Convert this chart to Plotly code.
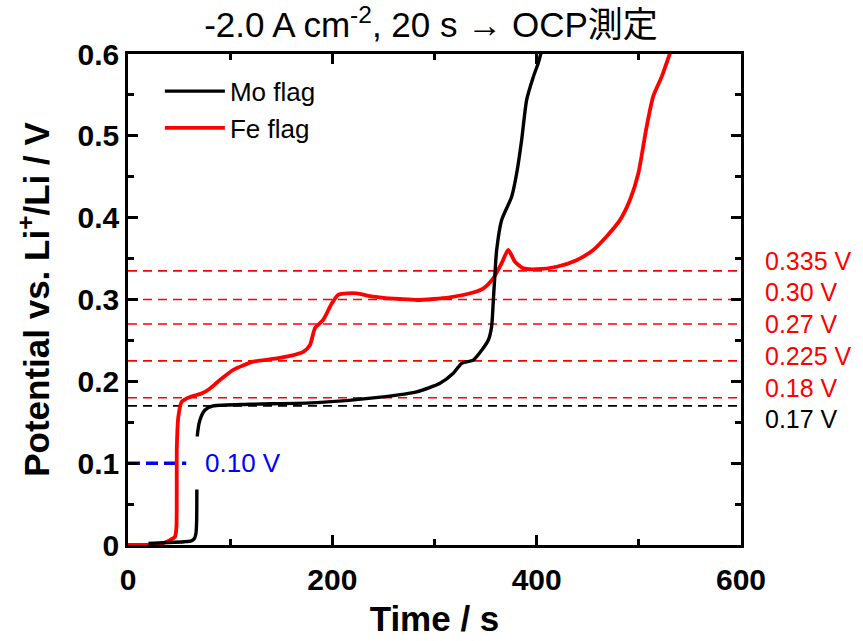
import plotly.graph_objects as go

# Fe flag (red)
fe_t = [0, 31, 41, 46, 47.4, 47.8, 49.3, 52.5, 60.7, 72, 80, 90, 103, 122.6, 145.5, 158.6,
        171.6, 178, 183, 191, 199.4, 206, 224, 237, 250, 266, 282.5, 299, 315, 335, 348,
        357.6, 365.7, 372.2, 378.8, 387, 400, 419.5, 439, 455.4, 468.4, 481.5, 491.3,
        499.5, 507.6, 514, 522.3, 530.5]
fe_v = [0.000, 0.001, 0.006, 0.010, 0.022, 0.120, 0.157, 0.175, 0.181, 0.185, 0.191, 0.2016,
        0.214, 0.224, 0.228, 0.231, 0.236, 0.244, 0.265, 0.275, 0.295, 0.306, 0.3076, 0.304,
        0.302, 0.3006, 0.2994, 0.3006, 0.3027, 0.3076, 0.3137, 0.326, 0.3443, 0.3605, 0.346,
        0.338, 0.337, 0.340, 0.348, 0.3605, 0.377, 0.397, 0.4216, 0.454, 0.511, 0.548,
        0.572, 0.601]

# Mo flag (black)
mo_t = [20, 40, 55, 62, 65, 66.5, 67.2, 67.4, 67.6, 70.5, 75.4, 83.5, 119.4, 184.7, 249.9,
        282.5, 305.4, 318.4, 326.6, 338, 346.2, 352.7, 355.9, 357.6, 359.2, 360.8, 365.7,
        375.5, 380.4, 385.3, 390.2, 396.7, 401.6, 404.2]
mo_v = [0.002, 0.003, 0.004, 0.005, 0.008, 0.014, 0.03, 0.07, 0.13, 0.153, 0.165, 0.170,
        0.172, 0.174, 0.181, 0.187, 0.1976, 0.2098, 0.222, 0.226, 0.238, 0.2505, 0.2668,
        0.2994, 0.332, 0.36, 0.397, 0.4256, 0.454, 0.495, 0.544, 0.572, 0.589, 0.601]

# reference levels
ref_levels = [0.335, 0.30, 0.27, 0.225, 0.18, 0.17]
ref_labels = ["0.335 V", "0.30 V", "0.27 V", "0.225 V", "0.18 V", "0.17 V"]
ref_colors = ["#ff0000", "#ff0000", "#ff0000", "#ff0000", "#ff0000", "#000000"]
label_y = [0.347, 0.309, 0.270, 0.231, 0.192, 0.154]

blue_level = 0.10
blue_t = [0, 57]

x_ticks = [0, 200, 400, 600]
y_ticks = [0, 0.1, 0.2, 0.3, 0.4, 0.5, 0.6]

FONT = "Arial, Liberation Sans, Noto Sans CJK JP, sans-serif"

fig = go.Figure()

for lv, c in zip(ref_levels, ref_colors):
    fig.add_trace(go.Scatter(x=[0, 600], y=[lv, lv], mode="lines",
                             line=dict(color=c, width=1.6, dash="9px,6px"),
                             showlegend=False, hoverinfo="skip"))

fig.add_trace(go.Scatter(x=blue_t, y=[blue_level, blue_level], mode="lines",
                         line=dict(color="#0000ff", width=3.5, dash="12px,6px"),
                         showlegend=False, hoverinfo="skip"))

fig.add_trace(go.Scatter(x=fe_t, y=fe_v, mode="lines", name="Fe flag",
                         line=dict(color="#ff0000", width=3.8, shape="spline", smoothing=0.6),
                         legendrank=2))
fig.add_trace(go.Scatter(x=mo_t, y=mo_v, mode="lines", name="Mo flag",
                         line=dict(color="#000000", width=3.4, shape="spline", smoothing=0.6),
                         legendrank=1))

for txt, ly, c in zip(ref_labels, label_y, ref_colors):
    fig.add_annotation(x=1.038, xref="paper", y=ly, yref="y", text=txt, showarrow=False,
                       xanchor="left", yanchor="middle", borderpad=0,
                       font=dict(family=FONT, size=25, color=c))

fig.add_annotation(x=63.6, xref="x", y=blue_level, yref="y", text="0.10 V", showarrow=False,
                   xanchor="left", yanchor="middle", bgcolor="white", borderpad=11,
                   font=dict(family=FONT, size=26, color="#0000ff"))

axis_common = dict(showgrid=False, zeroline=False, showline=True, linecolor="black",
                   linewidth=2.5, mirror="ticks", ticks="inside", ticklen=10, tickwidth=2.5,
                   tickcolor="black",
                   tickfont=dict(family=FONT, size=30, color="black", weight="bold"))

fig.update_xaxes(range=[0, 600], tickvals=x_ticks, ticktext=[str(v) for v in x_ticks],
                 ticklabelstandoff=6,
                 minor=dict(dtick=100, ticks="inside", ticklen=6, tickwidth=2.5, tickcolor="black"),
                 title=dict(text="Time / s", standoff=12,
                            font=dict(family=FONT, size=35, color="black", weight="bold")),
                 **axis_common)
fig.update_yaxes(range=[0, 0.6], tickvals=y_ticks,
                 ticktext=["0", "0.1", "0.2", "0.3", "0.4", "0.5", "0.6"],
                 minor=dict(dtick=0.05, ticks="inside", ticklen=6, tickwidth=2.5, tickcolor="black"),
                 title=dict(text="Potential vs. Li<sup>+</sup>/Li / V", standoff=18,
                            font=dict(family=FONT, size=35, color="black", weight="bold")),
                 **axis_common)

fig.update_layout(
    width=863, height=641,
    margin=dict(l=128, r=122, t=54, b=96, autoexpand=False),
    plot_bgcolor="white", paper_bgcolor="white",
    title=dict(text="-2.0 A cm<sup>-2</sup>, 20 s → OCP測定", x=431 / 863,
               xanchor="center", y=1 - 25 / 641, yanchor="middle",
               font=dict(family=FONT, size=35, color="black")),
    legend=dict(x=0.052, y=0.972, xanchor="left", yanchor="top", bgcolor="rgba(0,0,0,0)",
                font=dict(family=FONT, size=26, color="black"), tracegroupgap=0,
                itemwidth=60),
    showlegend=True,
)

fig.write_html("out.html")
